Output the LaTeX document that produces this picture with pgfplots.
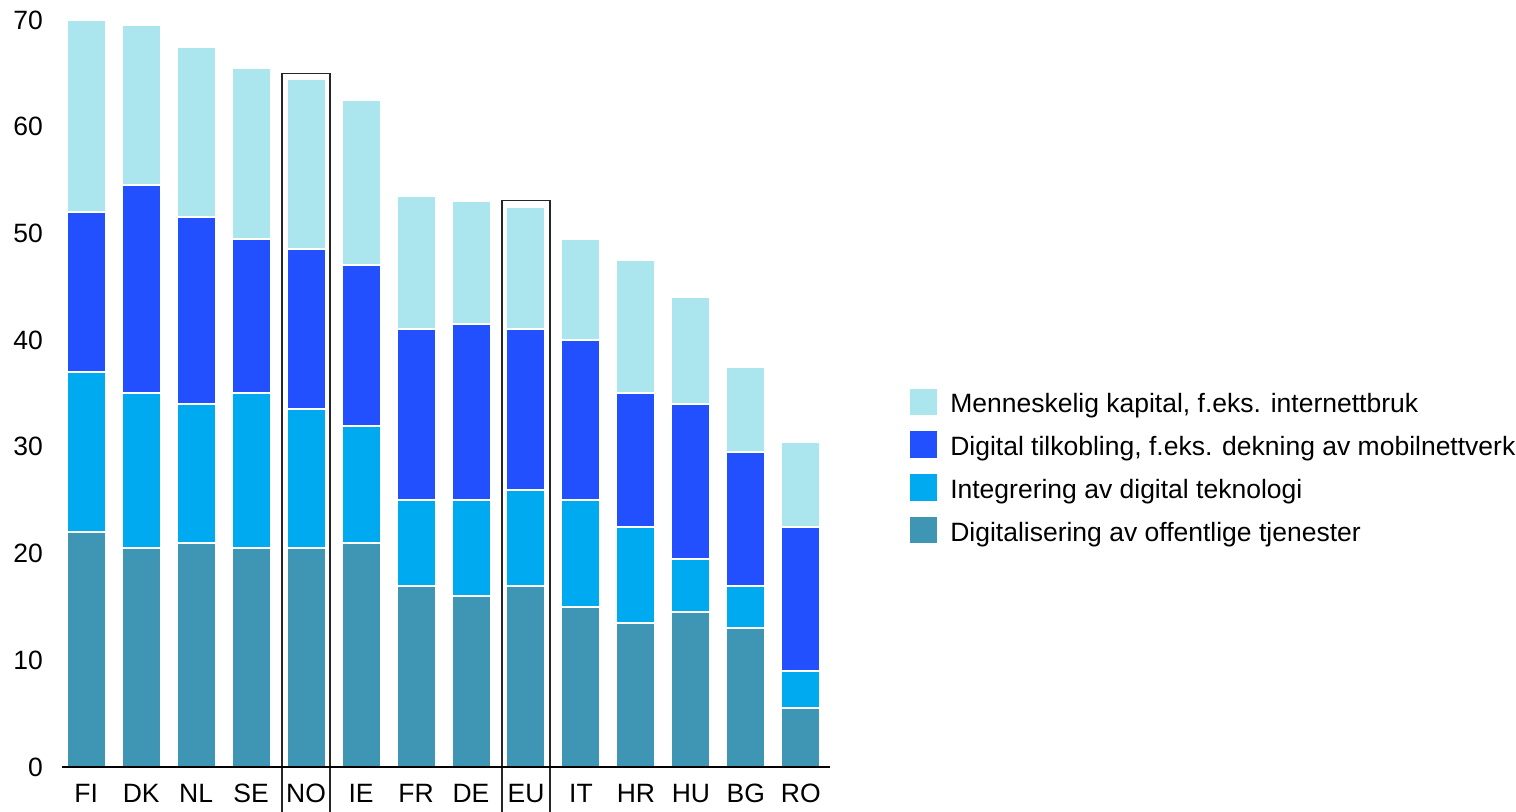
\documentclass[border=0pt]{standalone}
\usepackage{fontspec}
\setmainfont{Liberation Sans}
\usepackage{pgfplots}
\pgfplotsset{compat=1.18}

\definecolor{cHuman}{HTML}{ABE6EF}
\definecolor{cConn}{HTML}{2350FF}
\definecolor{cInteg}{HTML}{00AAF0}
\definecolor{cPublic}{HTML}{3F96B4}

\begin{document}
\begin{tikzpicture}
\begin{axis}[
  at={(0,0)}, anchor=south west,
  scale only axis, width=384pt, height=373.5pt,
  xmin=-0.44, xmax=13.53, ymin=0, ymax=70,
  ybar stacked, bar width=19.5pt,
  axis on top,
  axis x line*=bottom, axis y line*=left,
  axis line style={-},
  x axis line style={-, line width=1pt, black},
  y axis line style={draw=none},
  major tick length=0pt,
  xtick={0,...,13},
  xticklabels={FI,DK,NL,SE,NO,IE,FR,DE,EU,IT,HR,HU,BG,RO},
  ytick={0,10,...,70},
  /pgf/number format/assume math mode=true,
  tick label style={font=\fontsize{13.25}{15}\selectfont},
  yticklabel style={xshift=-6pt},
  xticklabel style={yshift=-5pt},
  clip=false,
  reverse legend,
  legend image code/.code={%
    \fill[#1,draw=none] (0pt,-1.2pt) rectangle (13.5pt,12pt);
    \path (19.5pt,0pt);},
  legend style={at={(1.104,0.507)}, anchor=north west, draw=none, fill=none,
    font=\fontsize{13.25}{15}\selectfont, inner sep=0pt, row sep=7.9pt,
    cells={anchor=base west}, nodes={inner sep=0pt}},
]
% Digitalisering av offentlige tjenester
\addplot[fill=cPublic, draw=white, line width=1pt] coordinates {
  (0,22) (1,20.5) (2,21) (3,20.5) (4,20.5) (5,21) (6,17) (7,16)
  (8,17) (9,15) (10,13.5) (11,14.5) (12,13) (13,5.5)};
% Integrering av digital teknologi
\addplot[fill=cInteg, draw=white, line width=1pt] coordinates {
  (0,15) (1,14.5) (2,13) (3,14.5) (4,13) (5,11) (6,8) (7,9)
  (8,9) (9,10) (10,9) (11,5) (12,4) (13,3.5)};
% Digital tilkobling
\addplot[fill=cConn, draw=white, line width=1pt] coordinates {
  (0,15) (1,19.5) (2,17.5) (3,14.5) (4,15) (5,15) (6,16) (7,16.5)
  (8,15) (9,15) (10,12.5) (11,14.5) (12,12.5) (13,13.5)};
% Menneskelig kapital
\addplot[fill=cHuman, draw=white, line width=1pt] coordinates {
  (0,18) (1,15) (2,16) (3,16) (4,16) (5,15.5) (6,12.5) (7,11.5)
  (8,11.5) (9,9.5) (10,12.5) (11,10) (12,8) (13,8)};
\legend{Digitalisering av offentlige tjenester,
        Integrering av digital teknologi,
        {Digital tilkobling, f.eks. dekning av mobilnettverk},
        {Menneskelig kapital, f.eks. internettbruk}}
% frames around Norway and the EU average
\draw[black!85, line width=0.6pt] (axis cs:3.5636,-6) -- (axis cs:3.5636,65.0)
  -- (axis cs:4.4364,65.0) -- (axis cs:4.4364,-6);
\draw[black!85, line width=0.6pt] (axis cs:7.5636,-6) -- (axis cs:7.5636,53.1)
  -- (axis cs:8.4364,53.1) -- (axis cs:8.4364,-6);
\end{axis}
\pgfresetboundingbox
\path[use as bounding box] (-31pt,-22.5pt) rectangle (727pt,383.5pt);
\end{tikzpicture}
\end{document}
